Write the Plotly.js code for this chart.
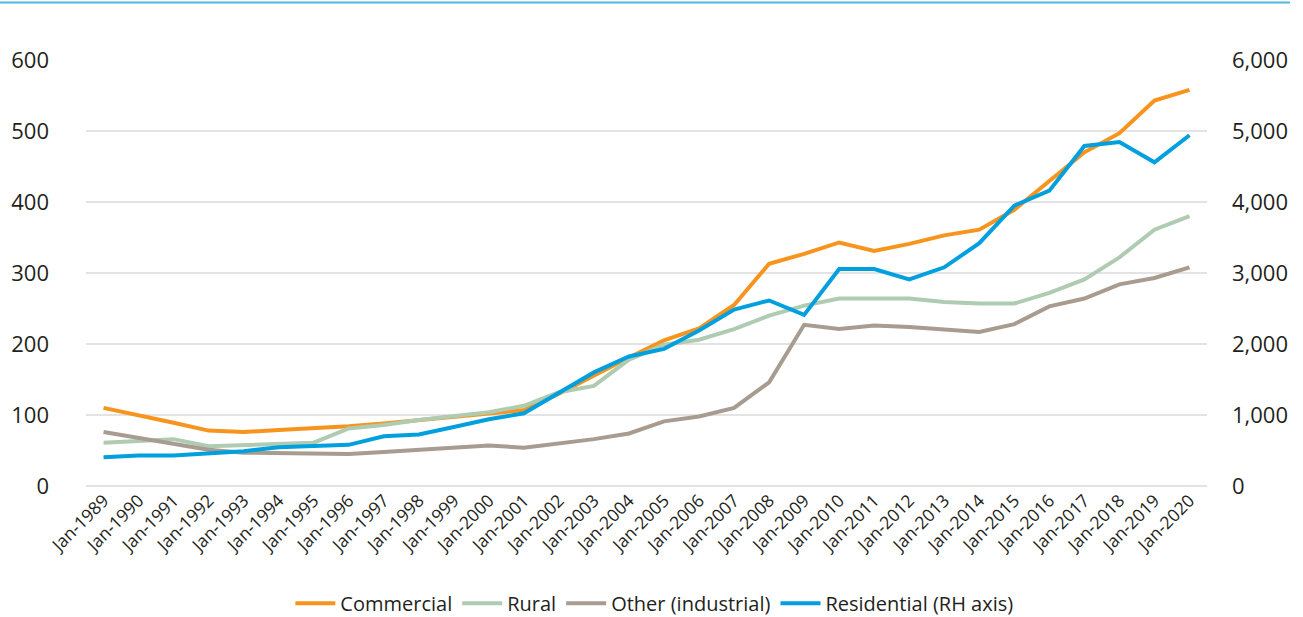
<!DOCTYPE html>
<html>
<head>
<meta charset="utf-8">
<script src="https://cdn.plot.ly/plotly-3.0.1.min.js"></script>
<style>
  html, body { margin: 0; padding: 0; background: #fff; }
  #chart { width: 1303px; height: 617px; }
</style>
</head>
<body>
<div id="chart"></div>
<script>
// Annual observations, January of each year
const years = [
  'Jan-1989','Jan-1990','Jan-1991','Jan-1992','Jan-1993','Jan-1994','Jan-1995','Jan-1996',
  'Jan-1997','Jan-1998','Jan-1999','Jan-2000','Jan-2001','Jan-2002','Jan-2003','Jan-2004',
  'Jan-2005','Jan-2006','Jan-2007','Jan-2008','Jan-2009','Jan-2010','Jan-2011','Jan-2012',
  'Jan-2013','Jan-2014','Jan-2015','Jan-2016','Jan-2017','Jan-2018','Jan-2019','Jan-2020'
];

// Left-hand axis series
const commercial = [110,100,89,78,76,79,81,84,88,93,98,102,107,130,156,181,205,222,255,313,327,343,331,341,353,361,389,430,470,497,543,558];
const rural      = [61,63,66,56,58,59,61,81,86,93,98,104,113,132,141,178,199,206,221,240,254,264,264,264,259,257,257,272,291,322,361,380];
const other      = [76,68,59,51,47,46,46,45,48,51,54,57,54,60,66,74,91,98,110,146,227,221,226,224,221,217,228,253,264,284,293,308];

// Right-hand axis series
const residential = [405,430,430,460,490,546,565,580,700,726,830,940,1024,1306,1600,1824,1932,2190,2486,2613,2410,3055,3055,2910,3080,3420,3950,4160,4790,4845,4560,4940];

const leftTicks  = [0,100,200,300,400,500,600];
const rightTicks = [0,1000,2000,3000,4000,5000,6000];

const FONT = '"Open Sans", "Noto Sans", sans-serif';
const INK = '#231f20';

function series(name, y, color, axis) {
  return {
    type: 'scatter', mode: 'lines', name: name,
    x: years, y: y, yaxis: axis,
    line: { color: color, width: 4 },
    hoverinfo: 'skip'
  };
}

const traces = [
  series('Commercial', commercial, '#f7941d', 'y'),
  series('Rural', rural, '#afcbb1', 'y'),
  series('Other (industrial)', other, '#a89b90', 'y'),
  series('Residential (RH axis)', residential, '#00a0df', 'y2')
];

const layout = {
  width: 1303, height: 617,
  margin: { l: 86, r: 96, t: 60, b: 131, pad: 0, autoexpand: false },
  paper_bgcolor: '#ffffff', plot_bgcolor: '#ffffff',
  font: { family: FONT, color: INK },
  showlegend: true,
  legend: {
    orientation: 'h', x: 0.507, xanchor: 'center', y: -0.275, yanchor: 'middle',
    font: { family: FONT, size: 20, color: INK },
    itemwidth: 40, traceorder: 'normal'
  },
  xaxis: {
    type: 'category', range: [-0.5, years.length - 0.5],
    tickmode: 'linear', dtick: 1, tickangle: -45,
    tickfont: { family: FONT, size: 17.5, color: INK },
    showgrid: false, zeroline: false, showline: false, ticks: '',
    automargin: false, fixedrange: true
  },
  yaxis: {
    range: [0, 600], tickmode: 'array', tickvals: leftTicks,
    tickfont: { family: FONT, size: 22, color: INK },
    showgrid: true, gridcolor: '#e3e3e3', gridwidth: 2,
    zeroline: true, zerolinecolor: '#e3e3e3', zerolinewidth: 2,
    showline: false, ticks: '', ticklabelstandoff: 36,
    automargin: false, fixedrange: true
  },
  yaxis2: {
    overlaying: 'y', side: 'right',
    range: [0, 6000], tickmode: 'array', tickvals: rightTicks, tickformat: ',',
    tickfont: { family: FONT, size: 22, color: INK },
    showgrid: false, zeroline: false, showline: false, ticks: '',
    ticklabelstandoff: 24,
    automargin: false, fixedrange: true
  },
  shapes: [{
    type: 'line', xref: 'paper', yref: 'paper',
    x0: -86 / 1121, x1: 1204 / 1121, y0: 1 + 57.5 / 426, y1: 1 + 57.5 / 426,
    line: { color: '#4cb8e4', width: 2 }
  }]
};

Plotly.newPlot('chart', traces, layout, { displayModeBar: false, staticPlot: true });
</script>
</body>
</html>
